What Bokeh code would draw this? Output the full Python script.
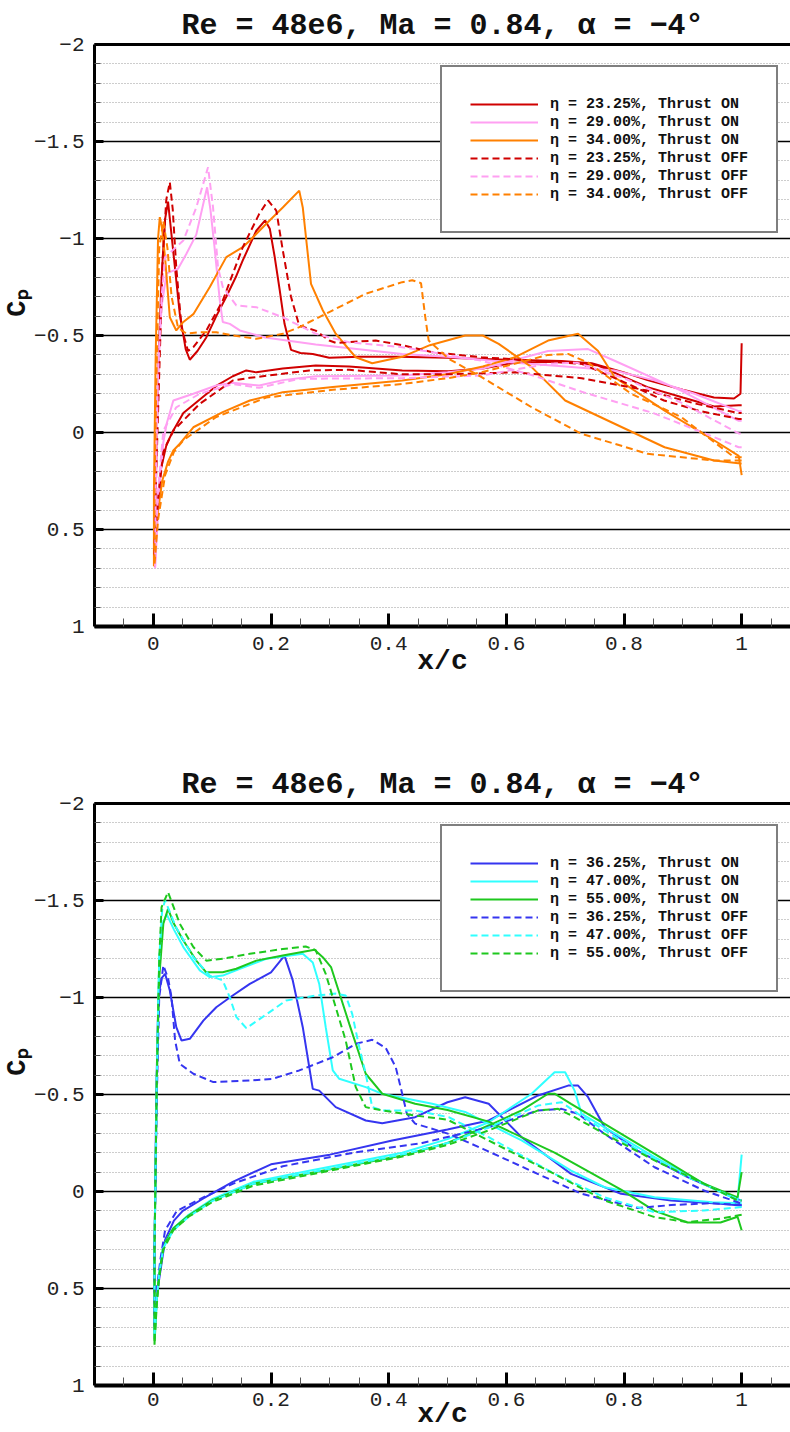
from bokeh.plotting import figure
from bokeh.models import Range1d, FixedTicker, LinearAxis, Legend, LegendItem
from bokeh.layouts import column
from bokeh.embed import file_html
from bokeh.resources import INLINE

FONT = "Liberation Mono"

# ---------------- axis ticks ----------------
x_ticks = [0, 0.2, 0.4, 0.6, 0.8, 1.0]
x_tick_labels = ["0", "0.2", "0.4", "0.6", "0.8", "1"]
x_minor = [-0.1, -0.05, 0.05, 0.1, 0.15, 0.25, 0.3, 0.35, 0.45, 0.5, 0.55, 0.65, 0.7, 0.75,
           0.85, 0.9, 0.95, 1.05]
y_ticks = [-2, -1.5, -1, -0.5, 0, 0.5, 1]
y_tick_labels = ["\u22122", "\u22121.5", "\u22121", "\u22120.5", "0", "0.5", "1"]
y_minor = [-1.9, -1.8, -1.7, -1.6, -1.4, -1.3, -1.2, -1.1, -0.9, -0.8, -0.7, -0.6,
           -0.4, -0.3, -0.2, -0.1, 0.1, 0.2, 0.3, 0.4, 0.6, 0.7, 0.8, 0.9]

title_text = "Re = 48e6, Ma = 0.84, \u03b1 = \u22124\u00b0"
x_label = "x/c"
y_label = "\u00a0\u00a0\u00a0\u00a0C\u209a"

# ---------------- top panel data ----------------
red_on_up_x = [0.004, 0.008, 0.014, 0.02, 0.025, 0.035, 0.045, 0.055, 0.062, 0.075, 0.09, 0.107, 0.124, 0.14,
               0.152, 0.175, 0.19, 0.198, 0.206, 0.215, 0.223, 0.234, 0.25, 0.271, 0.299, 0.35, 0.417, 0.5,
               0.6, 0.694, 0.745, 0.8, 0.84, 0.9, 0.953, 0.987, 0.998, 1.0]
red_on_up_cp = [0.3, -0.3, -0.8, -1.1, -1.19, -0.9, -0.61, -0.43, -0.375, -0.42, -0.49, -0.6, -0.70, -0.8,
                -0.887, -1.04, -1.093, -1.05, -0.91, -0.73, -0.56, -0.426, -0.41, -0.405, -0.385, -0.39, -0.39,
                -0.385, -0.375, -0.368, -0.357, -0.31, -0.27, -0.22, -0.18, -0.175, -0.2, -0.46]
red_on_lo_x = [0.002, 0.006, 0.012, 0.0226, 0.034, 0.051, 0.079, 0.107, 0.135, 0.158, 0.175, 0.22, 0.276,
               0.333, 0.423, 0.502, 0.56, 0.615, 0.7, 0.756, 0.84, 0.9, 0.953, 0.995, 1.0]
red_on_lo_cp = [0.65, 0.45, 0.2, 0.06, -0.01, -0.1, -0.17, -0.24, -0.29, -0.32, -0.31, -0.33, -0.345,
                -0.34, -0.32, -0.316, -0.33, -0.36, -0.366, -0.345, -0.234, -0.18, -0.134, -0.14, -0.14]

red_off_up_x = [0.004, 0.01, 0.016, 0.022, 0.028, 0.033, 0.039, 0.048, 0.059, 0.068, 0.09, 0.118, 0.152,
                0.18, 0.195, 0.209, 0.22, 0.234, 0.248, 0.276, 0.299, 0.31, 0.378, 0.423, 0.474, 0.558, 0.65,
                0.728, 0.8, 0.868, 0.93, 0.995, 1.0]
red_off_up_cp = [0.3, -0.3, -0.9, -1.2, -1.29, -1.15, -0.85, -0.54, -0.42, -0.44, -0.525, -0.68, -0.955,
                 -1.127, -1.196, -1.144, -0.94, -0.70, -0.55, -0.525, -0.474, -0.462, -0.474, -0.45, -0.414,
                 -0.388, -0.37, -0.354, -0.26, -0.165, -0.11, -0.07, -0.07]
red_off_lo_x = [0.002, 0.008, 0.017, 0.034, 0.079, 0.135, 0.164, 0.197, 0.265, 0.333, 0.423, 0.5, 0.615,
                0.728, 0.84, 0.92, 0.995, 1.0]
red_off_lo_cp = [0.64, 0.35, 0.1, -0.01, -0.148, -0.268, -0.282, -0.294, -0.32, -0.323, -0.30, -0.3, -0.31,
                 -0.28, -0.216, -0.15, -0.10, -0.10]

pink_on_up_x = [0.004, 0.008, 0.014, 0.0226, 0.042, 0.056, 0.073, 0.085, 0.0914, 0.097, 0.104, 0.113, 0.118,
                0.13, 0.147, 0.19, 0.276, 0.423, 0.5, 0.615, 0.7, 0.784, 0.85, 0.92, 0.995, 1.0]
pink_on_up_cp = [0.3, -0.3, -0.65, -0.82, -0.844, -0.92, -1.02, -1.18, -1.264, -1.15, -0.955, -0.68, -0.57,
                 -0.56, -0.526, -0.49, -0.454, -0.405, -0.39, -0.36, -0.34, -0.32, -0.27, -0.2, -0.11, -0.11]
pink_on_lo_x = [0.003, 0.01, 0.017, 0.0226, 0.034, 0.068, 0.107, 0.135, 0.18, 0.22, 0.276, 0.423, 0.5,
                0.558, 0.671, 0.739, 0.784, 0.897, 0.995, 1.0]
pink_on_lo_cp = [0.7, 0.3, 0.05, -0.045, -0.165, -0.2, -0.242, -0.256, -0.242, -0.27, -0.29, -0.294, -0.31,
                 -0.328, -0.42, -0.43, -0.37, -0.216, -0.06, -0.06]

pink_off_up_x = [0.004, 0.008, 0.014, 0.02, 0.051, 0.073, 0.093, 0.1015, 0.11, 0.118, 0.141, 0.175, 0.22,
                 0.276, 0.333, 0.423, 0.558, 0.65, 0.728, 0.85, 0.95, 0.995, 1.0]
pink_off_up_cp = [0.3, -0.3, -0.7, -0.904, -0.99, -1.16, -1.367, -1.16, -0.85, -0.75, -0.655, -0.646,
                  -0.594, -0.509, -0.465, -0.44, -0.37, -0.29, -0.21, -0.1, 0.02, 0.076, 0.076]
pink_off_lo_x = [0.003, 0.008, 0.017, 0.039, 0.079, 0.135, 0.18, 0.248, 0.423, 0.558, 0.671, 0.72, 0.8, 0.9,
                 0.995, 1.0]
pink_off_lo_cp = [0.69, 0.3, -0.01, -0.13, -0.2, -0.25, -0.23, -0.277, -0.28, -0.294, -0.354, -0.36, -0.28,
                  -0.15, 0.005, 0.005]

orange_on_up_x = [0.001, 0.004, 0.008, 0.011, 0.015, 0.02, 0.028, 0.039, 0.051, 0.068, 0.096, 0.124, 0.152,
                  0.164, 0.192, 0.22, 0.248, 0.254, 0.268, 0.288, 0.31, 0.344, 0.372, 0.423, 0.47, 0.53, 0.56,
                  0.587, 0.643, 0.7, 0.784, 0.869, 0.953, 0.998, 1.0]
orange_on_up_cp = [0.3, -0.4, -1.0, -1.11, -1.05, -0.9, -0.594, -0.526, -0.57, -0.61, -0.75, -0.904, -0.955,
                   -0.99, -1.076, -1.16, -1.247, -1.16, -0.766, -0.63, -0.509, -0.388, -0.357, -0.39, -0.45,
                   -0.5, -0.5, -0.457, -0.337, -0.165, -0.045, 0.076, 0.144, 0.16, 0.16]
orange_on_lo_x = [0.001, 0.006, 0.015, 0.025, 0.034, 0.045, 0.068, 0.118, 0.164, 0.22, 0.305, 0.423, 0.5,
                  0.56, 0.615, 0.671, 0.722, 0.756, 0.784, 0.869, 0.953, 0.995, 1.0]
orange_on_lo_cp = [0.69, 0.45, 0.25, 0.15, 0.093, 0.058, -0.027, -0.105, -0.165, -0.208, -0.234, -0.268,
                   -0.3, -0.34, -0.388, -0.474, -0.509, -0.42, -0.285, -0.113, 0.04, 0.12, 0.22]

orange_off_up_x = [0.002, 0.006, 0.01, 0.017, 0.024, 0.031, 0.042, 0.056, 0.079, 0.107, 0.135, 0.175, 0.22,
                   0.248, 0.305, 0.361, 0.423, 0.44, 0.455, 0.462, 0.468, 0.502, 0.558, 0.643, 0.728, 0.784,
                   0.84, 0.953, 0.995, 1.0]
orange_off_up_cp = [0.3, -0.4, -0.95, -1.09, -0.95, -0.70, -0.54, -0.51, -0.517, -0.517, -0.5, -0.483,
                    -0.509, -0.543, -0.63, -0.715, -0.775, -0.785, -0.77, -0.6, -0.474, -0.38, -0.285, -0.13,
                    0.007, 0.058, 0.11, 0.144, 0.144, 0.144]
orange_off_lo_x = [0.002, 0.008, 0.02, 0.035, 0.051, 0.107, 0.192, 0.305, 0.423, 0.5, 0.558, 0.671, 0.705,
                   0.739, 0.812, 0.897, 0.987, 1.0]
orange_off_lo_cp = [0.68, 0.45, 0.22, 0.1, 0.04, -0.08, -0.18, -0.22, -0.25, -0.28, -0.31, -0.4, -0.405,
                    -0.36, -0.2, -0.08, 0.127, 0.127]

# ---------------- bottom panel data ----------------
blue_on_up_x = [0.002, 0.005, 0.0085, 0.014, 0.02, 0.028, 0.039, 0.048, 0.062, 0.085, 0.107, 0.13, 0.164,
                0.2, 0.223, 0.237, 0.254, 0.271, 0.282, 0.31, 0.361, 0.389, 0.445, 0.5, 0.53, 0.57, 0.626,
                0.71, 0.795, 0.88, 0.964, 0.998, 1.0]
blue_on_up_cp = [0.3, -0.5, -1.0, -1.1, -1.122, -1.036, -0.847, -0.778, -0.787, -0.881, -0.95, -1.0, -1.07,
                 -1.13, -1.216, -1.088, -0.847, -0.529, -0.52, -0.435, -0.366, -0.352, -0.383, -0.46, -0.486,
                 -0.452, -0.28, -0.091, 0.012, 0.046, 0.063, 0.072, 0.072]
blue_on_lo_x = [0.002, 0.006, 0.01, 0.02, 0.035, 0.05, 0.085, 0.135, 0.2, 0.3, 0.406, 0.5, 0.57, 0.654,
                0.705, 0.722, 0.739, 0.767, 0.823, 0.908, 0.998, 1.0]
blue_on_lo_cp = [0.72, 0.55, 0.45, 0.25, 0.15, 0.1, 0.036, -0.05, -0.14, -0.19, -0.263, -0.32, -0.366,
                 -0.495, -0.546, -0.546, -0.486, -0.331, -0.211, -0.074, 0.046, 0.046]

blue_off_up_x = [0.002, 0.006, 0.01, 0.017, 0.025, 0.031, 0.037, 0.045, 0.068, 0.102, 0.164, 0.203, 0.248,
                 0.305, 0.344, 0.372, 0.395, 0.412, 0.423, 0.431, 0.445, 0.502, 0.56, 0.654, 0.728, 0.823,
                 0.88, 0.95, 1.0]
blue_off_up_cp = [0.3, -0.5, -1.0, -1.165, -1.1, -1.0, -0.778, -0.658, -0.607, -0.564, -0.572, -0.581,
                  -0.624, -0.692, -0.761, -0.782, -0.74, -0.641, -0.504, -0.4, -0.35, -0.297, -0.22, -0.09,
                  0.012, 0.085, 0.07, 0.06, 0.07]
blue_off_lo_x = [0.002, 0.006, 0.012, 0.02, 0.04, 0.085, 0.135, 0.22, 0.34, 0.457, 0.57, 0.654, 0.694,
                 0.722, 0.767, 0.852, 0.936, 0.998, 1.0]
blue_off_lo_cp = [0.7, 0.5, 0.35, 0.2, 0.1, 0.03, -0.04, -0.13, -0.2, -0.25, -0.331, -0.418, -0.426, -0.4,
                  -0.297, -0.125, -0.005, 0.06, 0.06]

cyan_on_up_x = [0.002, 0.006, 0.01, 0.016, 0.0226, 0.035, 0.051, 0.079, 0.096, 0.118, 0.147, 0.192, 0.254,
                0.271, 0.282, 0.293, 0.305, 0.316, 0.361, 0.389, 0.474, 0.53, 0.626, 0.71, 0.767, 0.852,
                0.95, 1.0]
cyan_on_up_cp = [0.3, -0.6, -1.2, -1.38, -1.43, -1.35, -1.26, -1.14, -1.105, -1.113, -1.148, -1.2, -1.225,
                 -1.18, -1.07, -0.847, -0.624, -0.581, -0.538, -0.504, -0.452, -0.41, -0.263, -0.108, -0.022,
                 0.03, 0.055, 0.06]
cyan_on_lo_x = [0.002, 0.006, 0.01, 0.017, 0.034, 0.06, 0.1, 0.17, 0.254, 0.423, 0.5, 0.57, 0.643, 0.682,
                0.7, 0.716, 0.728, 0.767, 0.852, 0.936, 0.993, 1.0]
cyan_on_lo_cp = [0.76, 0.55, 0.42, 0.28, 0.19, 0.12, 0.04, -0.05, -0.1, -0.2, -0.27, -0.357, -0.504,
                 -0.615, -0.615, -0.52, -0.4, -0.331, -0.177, -0.04, 0.046, -0.19]

cyan_off_up_x = [0.002, 0.006, 0.01, 0.015, 0.02, 0.039, 0.068, 0.096, 0.118, 0.13, 0.141, 0.158, 0.186,
                 0.226, 0.276, 0.31, 0.327, 0.338, 0.35, 0.361, 0.372, 0.389, 0.445, 0.502, 0.57, 0.682,
                 0.767, 0.852, 0.936, 1.0]
cyan_off_up_cp = [0.3, -0.6, -1.2, -1.45, -1.5, -1.36, -1.208, -1.113, -1.088, -1.0, -0.9, -0.842, -0.9,
                  -0.985, -1.01, -1.02, -1.01, -0.916, -0.744, -0.607, -0.435, -0.418, -0.418, -0.383,
                  -0.28, -0.091, 0.03, 0.107, 0.098, 0.08]
cyan_off_lo_x = [0.002, 0.006, 0.01, 0.017, 0.034, 0.06, 0.1, 0.17, 0.254, 0.423, 0.5, 0.57, 0.654, 0.694,
                 0.722, 0.795, 0.908, 0.998, 1.0]
cyan_off_lo_cp = [0.75, 0.55, 0.42, 0.29, 0.2, 0.13, 0.05, -0.04, -0.09, -0.19, -0.25, -0.33, -0.443,
                  -0.46, -0.4, -0.263, -0.074, 0.046, 0.046]

green_on_up_x = [0.002, 0.006, 0.01, 0.017, 0.025, 0.035, 0.051, 0.073, 0.09, 0.118, 0.141, 0.175, 0.22,
                 0.274, 0.288, 0.302, 0.333, 0.361, 0.389, 0.445, 0.5, 0.57, 0.682, 0.795, 0.852, 0.908,
                 0.964, 0.993, 1.0]
green_on_up_cp = [0.3, -0.6, -1.1, -1.38, -1.457, -1.38, -1.294, -1.19, -1.13, -1.13, -1.148, -1.19,
                  -1.216, -1.246, -1.208, -1.157, -0.864, -0.607, -0.504, -0.452, -0.42, -0.36, -0.2,
                  -0.01, 0.1, 0.16, 0.16, 0.13, 0.2]
green_on_lo_x = [0.002, 0.005, 0.0085, 0.017, 0.034, 0.06, 0.1, 0.17, 0.254, 0.423, 0.5, 0.57, 0.626,
                 0.671, 0.682, 0.71, 0.767, 0.852, 0.936, 0.993, 1.0]
green_on_lo_cp = [0.79, 0.6, 0.46, 0.28, 0.19, 0.124, 0.046, -0.04, -0.088, -0.186, -0.25, -0.34, -0.418,
                  -0.504, -0.504, -0.452, -0.349, -0.194, -0.04, 0.03, -0.1]

green_off_up_x = [0.002, 0.006, 0.01, 0.014, 0.025, 0.045, 0.068, 0.09, 0.118, 0.164, 0.22, 0.259, 0.276,
                  0.293, 0.31, 0.327, 0.344, 0.361, 0.389, 0.445, 0.5, 0.57, 0.682, 0.767, 0.852, 0.908,
                  0.964, 1.0]
green_off_up_cp = [0.3, -0.6, -1.2, -1.466, -1.543, -1.38, -1.26, -1.19, -1.2, -1.225, -1.25, -1.263,
                   -1.244, -1.122, -0.95, -0.778, -0.538, -0.435, -0.418, -0.392, -0.37, -0.263, -0.09,
                   0.046, 0.132, 0.158, 0.14, 0.12]
green_off_lo_x = [0.002, 0.006, 0.01, 0.017, 0.034, 0.06, 0.1, 0.17, 0.254, 0.423, 0.5, 0.57, 0.654,
                  0.688, 0.716, 0.767, 0.852, 0.936, 0.993, 1.0]
green_off_lo_cp = [0.78, 0.58, 0.44, 0.3, 0.2, 0.13, 0.055, -0.03, -0.08, -0.18, -0.24, -0.315, -0.418,
                   -0.426, -0.383, -0.297, -0.16, -0.04, 0.046, 0.046]

RED, PINK, ORANGE = "#d00000", "#ffa0f2", "#ff8000"
BLUE, CYAN, GREEN = "#3535f0", "#30ffff", "#1ec81e"

top_series = [
    ("\u03b7 = 23.25%, Thrust ON", RED, "solid", red_on_up_x, red_on_up_cp, red_on_lo_x, red_on_lo_cp),
    ("\u03b7 = 29.00%, Thrust ON", PINK, "solid", pink_on_up_x, pink_on_up_cp, pink_on_lo_x, pink_on_lo_cp),
    ("\u03b7 = 34.00%, Thrust ON", ORANGE, "solid", orange_on_up_x, orange_on_up_cp, orange_on_lo_x, orange_on_lo_cp),
    ("\u03b7 = 23.25%, Thrust OFF", RED, "7 4", red_off_up_x, red_off_up_cp, red_off_lo_x, red_off_lo_cp),
    ("\u03b7 = 29.00%, Thrust OFF", PINK, "7 4", pink_off_up_x, pink_off_up_cp, pink_off_lo_x, pink_off_lo_cp),
    ("\u03b7 = 34.00%, Thrust OFF", ORANGE, "7 4", orange_off_up_x, orange_off_up_cp, orange_off_lo_x, orange_off_lo_cp),
]
bottom_series = [
    ("\u03b7 = 36.25%, Thrust ON", BLUE, "solid", blue_on_up_x, blue_on_up_cp, blue_on_lo_x, blue_on_lo_cp),
    ("\u03b7 = 47.00%, Thrust ON", CYAN, "solid", cyan_on_up_x, cyan_on_up_cp, cyan_on_lo_x, cyan_on_lo_cp),
    ("\u03b7 = 55.00%, Thrust ON", GREEN, "solid", green_on_up_x, green_on_up_cp, green_on_lo_x, green_on_lo_cp),
    ("\u03b7 = 36.25%, Thrust OFF", BLUE, "7 4", blue_off_up_x, blue_off_up_cp, blue_off_lo_x, blue_off_lo_cp),
    ("\u03b7 = 47.00%, Thrust OFF", CYAN, "7 4", cyan_off_up_x, cyan_off_up_cp, cyan_off_lo_x, cyan_off_lo_cp),
    ("\u03b7 = 55.00%, Thrust OFF", GREEN, "7 4", green_off_up_x, green_off_up_cp, green_off_lo_x, green_off_lo_cp),
]


def make_panel(height, bottom_border, series, tick_standoff, xlabel_standoff):
    p = figure(width=790, height=height, x_range=Range1d(-0.1, 1.083), y_range=Range1d(1, -2),
               output_backend="svg", toolbar_location=None,
               min_border_left=91, min_border_right=0, min_border_top=44,
               min_border_bottom=bottom_border)
    p.outline_line_color = None
    p.background_fill_color = "white"

    p.title.text = title_text
    p.title.align = "center"
    p.title.text_font = FONT
    p.title.text_font_style = "bold"
    p.title.text_font_size = "30px"
    p.title.text_color = "#111111"
    p.title.standoff = 4

    xt = FixedTicker(ticks=x_ticks, minor_ticks=x_minor)
    yt = FixedTicker(ticks=y_ticks, minor_ticks=y_minor)

    ax = p.xaxis[0]
    ax.ticker = xt
    ax.major_label_overrides = {t: l for t, l in zip(x_ticks, x_tick_labels)}
    ax.axis_line_width = 4
    ax.major_tick_in = 13
    ax.major_tick_out = 0
    ax.major_tick_line_width = 3
    ax.minor_tick_in = 8
    ax.minor_tick_out = 0
    ax.minor_tick_line_color = "#555555"
    ax.major_label_text_font = FONT
    ax.major_label_text_font_size = "21px"
    ax.major_label_text_color = "#222222"
    ax.major_label_standoff = tick_standoff
    ax.axis_label = x_label
    ax.axis_label_text_font = FONT
    ax.axis_label_text_font_style = "bold"
    ax.axis_label_text_font_size = "28px"
    ax.axis_label_text_color = "#111111"
    ax.axis_label_standoff = xlabel_standoff

    ay = p.yaxis[0]
    ay.ticker = yt
    ay.major_label_overrides = {t: l for t, l in zip(y_ticks, y_tick_labels)}
    ay.axis_line_width = 3
    ay.major_tick_in = 9
    ay.major_tick_out = 0
    ay.major_tick_line_width = 3
    ay.minor_tick_in = 6
    ay.minor_tick_out = 0
    ay.minor_tick_line_color = "#555555"
    ay.major_label_text_font = FONT
    ay.major_label_text_font_size = "21px"
    ay.major_label_text_color = "#222222"
    ay.major_label_standoff = 10
    ay.axis_label = y_label
    ay.axis_label_text_font = FONT
    ay.axis_label_text_font_style = "bold"
    ay.axis_label_text_font_size = "27px"
    ay.axis_label_text_color = "#111111"
    ay.axis_label_standoff = -2

    top = LinearAxis(ticker=FixedTicker(ticks=[]), axis_line_width=3,
                     major_label_text_font_size="0px", major_tick_in=0, major_tick_out=0,
                     minor_tick_in=0, minor_tick_out=0, major_label_standoff=0)
    p.add_layout(top, "above")

    p.xgrid.visible = False
    p.ygrid.ticker = yt
    p.ygrid.grid_line_color = "black"
    p.ygrid.grid_line_width = 1.5
    p.ygrid.minor_grid_line_color = "#9a9a9a"
    p.ygrid.minor_grid_line_dash = "1 2"
    p.ygrid.minor_grid_line_width = 1

    items = []
    for label, color, dash, ux, ucp, lx, lcp in series:
        xs = list(reversed(ux)) + list(lx)
        ys = list(reversed(ucp)) + list(lcp)
        r = p.line(xs, ys, line_color=color, line_width=2, line_dash=dash)
        items.append(LegendItem(label=label, renderers=[r]))

    leg = Legend(items=items, location=(346, 393), orientation="vertical",
                 label_text_font=FONT, label_text_font_style="bold", label_text_font_size="15px",
                 label_text_color="#111111",
                 glyph_width=68, glyph_height=18, label_height=18, label_standoff=12,
                 spacing=0, padding=28, margin=0,
                 border_line_color="black", border_line_width=2,
                 background_fill_color="white", background_fill_alpha=1.0)
    p.add_layout(leg)
    return p


p1 = make_panel(759, 133, top_series, 10, -7)
p2 = make_panel(673, 47, bottom_series, 7, -10)
layout = column(p1, p2, spacing=0)

open("out.html", "w").write(file_html(layout, INLINE))
